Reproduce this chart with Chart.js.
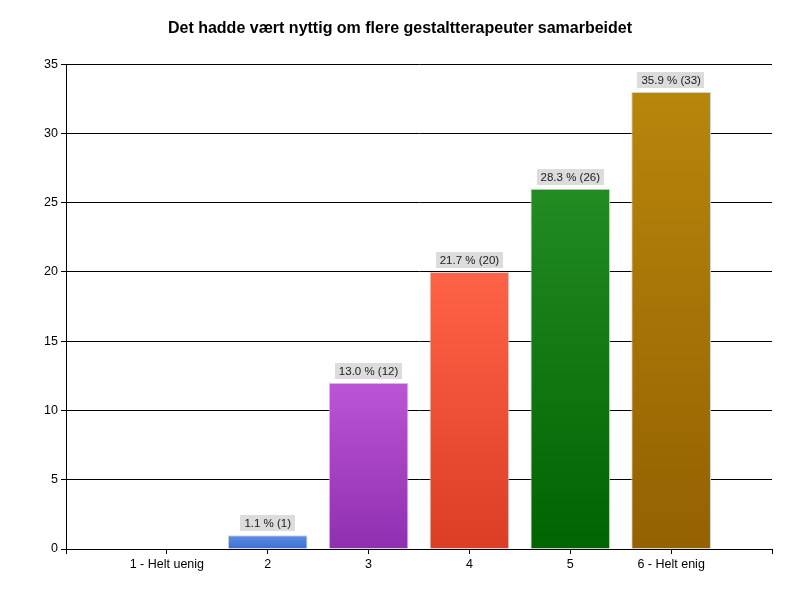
<!DOCTYPE html>
<html>
<head>
<meta charset="utf-8">
<script src="https://cdn.jsdelivr.net/npm/chart.js@4"></script>
<style>
  html, body { margin: 0; padding: 0; background: #fff; }
  #wrap { width: 800px; height: 600px; }
</style>
</head>
<body>
<div id="wrap"><canvas id="chart" width="800" height="600"></canvas></div>
<script>
// Data
const categories = ['1 - Helt uenig', '2', '3', '4', '5', '6 - Helt enig'];
const counts = [0, 1, 12, 20, 26, 33];
const percents = [0.0, 1.1, 13.0, 21.7, 28.3, 35.9];
const yTicks = [0, 5, 10, 15, 20, 25, 30, 35];

// gradient colours for each bar (top, bottom)
const topColors = ['#6495ed', '#5f8fe6', '#bb55d5', '#ff6347', '#228b22', '#b8860b'];
const bottomColors = ['#4169e1', '#3c6ed2', '#8f2faf', '#dc3d25', '#006400', '#936100'];

// blank slot on each side, like the original axis
const labels = [''].concat(categories, ['']);
const values = [null].concat(counts, [null]);

function barGradient(context) {
    const chart = context.chart;
    const i = context.dataIndex - 1;
    if (!chart.chartArea || i < 0 || i >= counts.length) return '#888';
    const y = chart.scales.y;
    const top = y.getPixelForValue(counts[i]);
    const bottom = y.getPixelForValue(0);
    if (bottom - top < 1) return topColors[i];
    const g = chart.ctx.createLinearGradient(0, top, 0, bottom);
    g.addColorStop(0, topColors[i]);
    g.addColorStop(1, bottomColors[i]);
    return g;
}

// grey boxed labels above bars
const valueLabels = {
    id: 'valueLabels',
    afterDatasetsDraw(chart) {
        const ctx = chart.ctx;
        const meta = chart.getDatasetMeta(0);
        ctx.save();
        ctx.font = '11.5px "Liberation Sans", Arial, sans-serif';
        ctx.textAlign = 'center';
        ctx.textBaseline = 'middle';
        meta.data.forEach((bar, idx) => {
            const i = idx - 1;
            if (i < 0 || i >= counts.length || !counts[i]) return;
            const txt = percents[i].toFixed(1) + ' % (' + counts[i] + ')';
            const w = ctx.measureText(txt).width + 8;
            const h = 16;
            const cy = bar.y - 4 - h / 2;
            ctx.fillStyle = '#dcdcdc';
            ctx.fillRect(Math.round(bar.x - w / 2), Math.round(cy - h / 2), Math.round(w), h);
            ctx.fillStyle = '#1a1a1a';
            ctx.fillText(txt, bar.x, cy + 1);
        });
        ctx.restore();
    }
};

new Chart(document.getElementById('chart'), {
    type: 'bar',
    data: {
        labels: labels,
        datasets: [{
            data: values,
            backgroundColor: barGradient,
            borderColor: '#d4d4d4',
            borderWidth: 1,
            categoryPercentage: 1.0,
            barPercentage: 0.79
        }]
    },
    options: {
        responsive: false,
        animation: false,
        layout: { padding: 0 },
        scales: {
            x: {
                offset: false,
                grid: { offset: false, drawOnChartArea: false, drawTicks: true, tickLength: 5, color: '#000' },
                border: { display: true, color: '#000', width: 1 },
                ticks: {
                    autoSkip: false,
                    maxRotation: 0,
                    color: '#000',
                    padding: 3,
                    font: { family: '"Liberation Sans", Arial, sans-serif', size: 12.5 }
                },
                afterFit(scale) { scale.height = 51; }
            },
            y: {
                min: 0,
                max: 35,
                afterBuildTicks(scale) { scale.ticks = yTicks.map(v => ({ value: v })); },
                grid: { color: '#000', drawTicks: true, tickLength: 5 },
                border: { display: true, color: '#000', width: 1 },
                ticks: {
                    color: '#000',
                    padding: 3,
                    font: { family: '"Liberation Sans", Arial, sans-serif', size: 12.5 }
                },
                afterFit(scale) { scale.width = 66; }
            },
            // empty strip on the right so the plot ends where the original does
            yr: {
                position: 'right',
                grid: { display: false },
                border: { display: false },
                ticks: { display: false },
                afterFit(scale) { scale.width = 28; }
            }
        },
        plugins: {
            legend: { display: false },
            tooltip: { enabled: false },
            title: {
                display: true,
                text: 'Det hadde vært nyttig om flere gestaltterapeuter samarbeidet',
                color: '#000',
                font: { family: '"Liberation Sans", Arial, sans-serif', size: 16, weight: 'bold' },
                padding: { top: 19, bottom: 26 }
            }
        }
    },
    plugins: [valueLabels]
});
</script>
</body>
</html>
